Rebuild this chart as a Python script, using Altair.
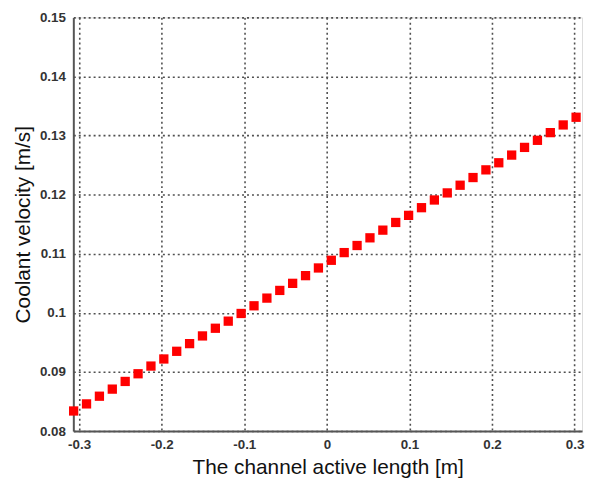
import altair as alt
import pandas as pd

x_vals = [-0.3066, -0.2910, -0.2754, -0.2598, -0.2442, -0.2286, -0.2130, -0.1974,
          -0.1818, -0.1662, -0.1506, -0.1350, -0.1194, -0.1038, -0.0882, -0.0726,
          -0.0570, -0.0414, -0.0258, -0.0102, 0.0054, 0.0210, 0.0366, 0.0522,
          0.0678, 0.0834, 0.0990, 0.1146, 0.1302, 0.1458, 0.1614, 0.1770,
          0.1926, 0.2082, 0.2238, 0.2394, 0.2550, 0.2706, 0.2862, 0.3018]
velocity = [0.0834, 0.0846, 0.0859, 0.0871, 0.0884, 0.0897, 0.0910, 0.0922,
            0.0935, 0.0948, 0.0961, 0.0974, 0.0986, 0.0999, 0.1012, 0.1025,
            0.1038, 0.1050, 0.1063, 0.1076, 0.1089, 0.1102, 0.1114, 0.1127,
            0.1140, 0.1153, 0.1165, 0.1178, 0.1191, 0.1203, 0.1216, 0.1229,
            0.1242, 0.1254, 0.1267, 0.1280, 0.1292, 0.1305, 0.1318, 0.1331]
x_ticks = [-0.3, -0.2, -0.1, 0.0, 0.1, 0.2, 0.3]
y_ticks = [0.08, 0.09, 0.10, 0.11, 0.12, 0.13, 0.14, 0.15]

df = pd.DataFrame({"x": x_vals, "v": velocity})

font = "Liberation Sans"

common = dict(
    grid=True, gridColor="#505050", gridDash=[2, 3], gridWidth=1.6,
    domainColor="#555555", domainWidth=2, ticks=False, tickSize=0,
    labelFont=font, labelFontSize=13.5, labelColor="#333333", labelFontWeight=600,
    titleFont=font, titleFontSize=21, titleFontWeight="normal", titleColor="#111111",
)

chart = alt.Chart(df).mark_point(
    shape="square", filled=True, size=88, color="#ff0000", opacity=1
).encode(
    x=alt.X("x:Q", scale=alt.Scale(domain=[-0.307, 0.309], nice=False, zero=False),
            axis=alt.Axis(values=x_ticks,
                          labelExpr="datum.value < 0 ? '-' + format(-datum.value, '.1~f') : format(datum.value, '.1~f')",
                          title="The channel active length [m]",
                          labelPadding=7, titlePadding=5, **common)),
    y=alt.Y("v:Q", scale=alt.Scale(domain=[0.08, 0.15], nice=False, zero=False),
            axis=alt.Axis(values=y_ticks, format=".2~f", title="Coolant velocity [m/s]",
                          labelPadding=8, titlePadding=6, **common)),
).properties(
    width=514, height=418,
    autosize=alt.AutoSizeParams(type="none"),
    padding={"left": 66, "top": 7, "right": 3, "bottom": 52},
).configure_view(stroke=None).configure(background="white")

chart.save("out.html", embed_options={"renderer": "svg", "actions": False})
